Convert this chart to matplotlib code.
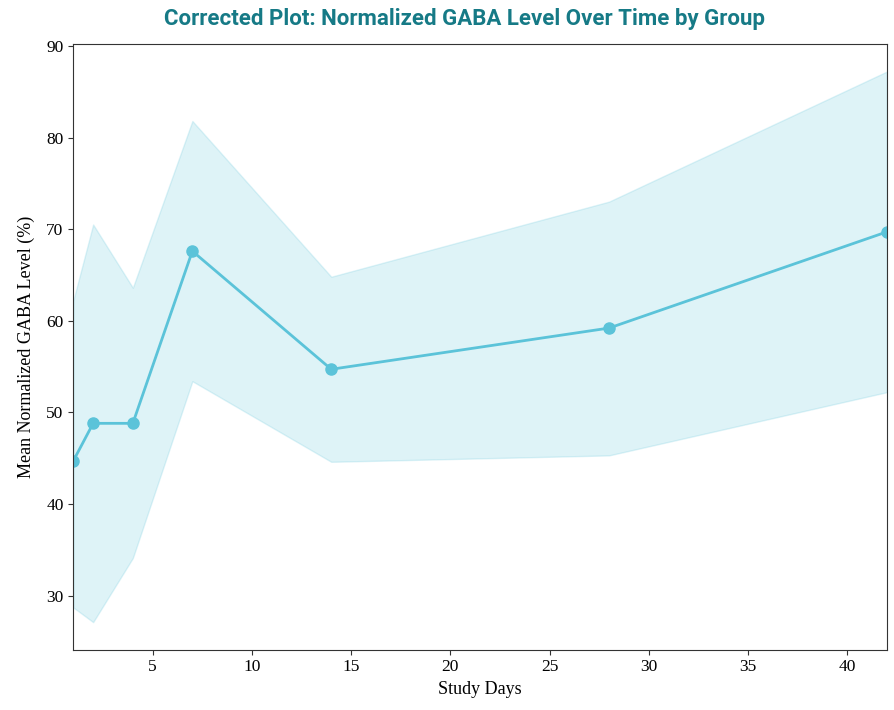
import numpy as np
import matplotlib
matplotlib.use("Agg")
import matplotlib.pyplot as plt

# Study days and group mean / confidence band
days = [1, 2, 4, 7, 14, 28, 42]
mean_gaba = [44.7, 48.8, 48.8, 67.6, 54.7, 59.2, 69.7]
upper_ci = [62.2, 70.5, 63.6, 81.8, 64.8, 73.0, 87.2]
lower_ci = [28.7, 27.1, 34.1, 53.4, 44.6, 45.3, 52.2]

line_color = "#5bc3d9"
title_color = "#167a86"

plt.rcParams["font.family"] = ["Liberation Serif", "DejaVu Serif"]

fig = plt.figure(figsize=(8.94, 7.10), dpi=100)
ax = fig.add_axes([0.082, 0.085, 0.91, 0.853])

ax.fill_between(days, lower_ci, upper_ci, color=line_color, alpha=0.2, linewidth=1)
ax.plot(days, mean_gaba, color=line_color, linewidth=2, marker="o", markersize=8)

ax.set_xlim(1, 42)
ax.margins(y=0.05)
ax.set_xticks([5, 10, 15, 20, 25, 30, 35, 40])
ax.set_yticks([30, 40, 50, 60, 70, 80, 90])
ax.tick_params(labelsize=12.5, color="#333333")
ax.set_xlabel("Study Days", fontsize=13)
ax.set_ylabel("Mean Normalized GABA Level (%)", fontsize=13, labelpad=8)
for s in ax.spines.values():
    s.set_color("#333333")

fig.text(0.52, 0.973, "Corrected Plot: Normalized GABA Level Over Time by Group",
         ha="center", va="center", fontsize=16, fontweight="bold",
         color=title_color, family="Roboto")

fig.savefig("out.png", dpi=100)
